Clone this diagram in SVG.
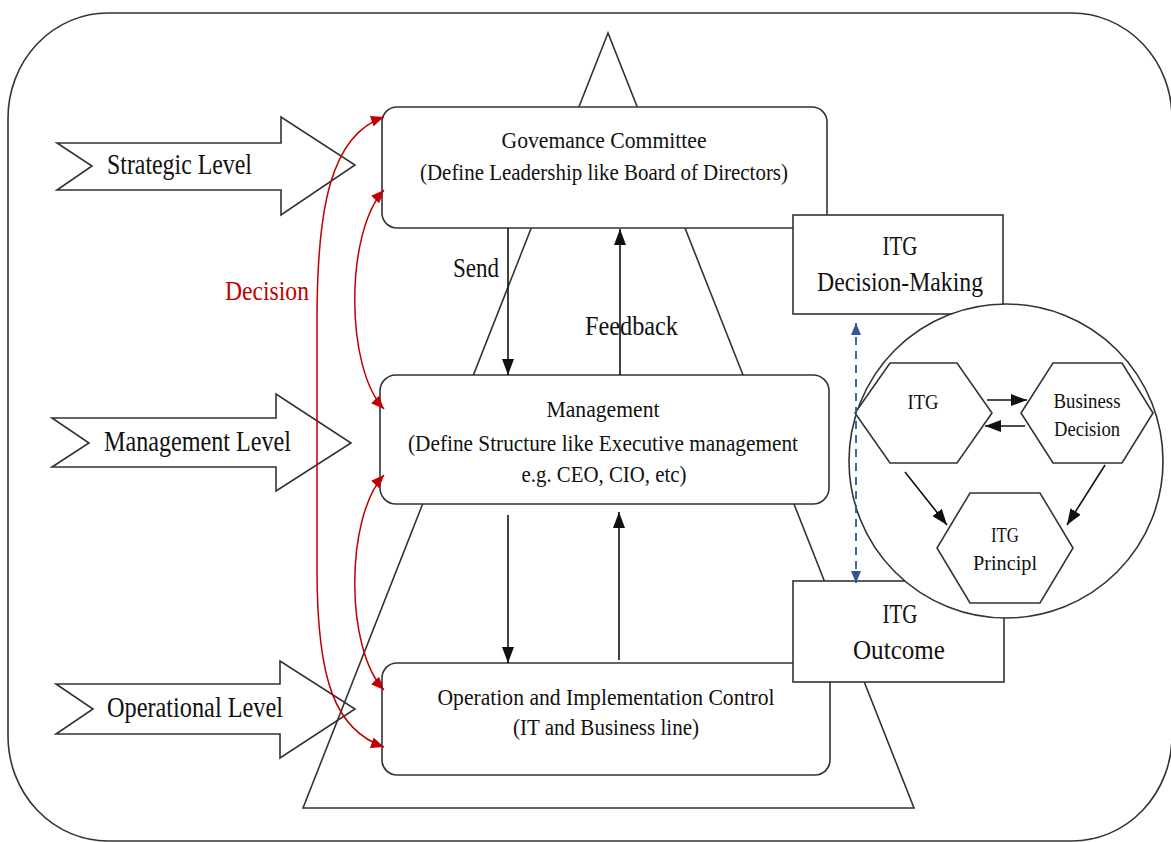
<svg xmlns="http://www.w3.org/2000/svg" width="1171" height="842" viewBox="0 0 1171 842">
<defs>
<style>
.ln{fill:none;stroke:#333;stroke-width:1.6}
.wf{fill:#fff;stroke:#333;stroke-width:1.6}
.t{font-family:"Liberation Serif","Times New Roman",serif;fill:#111}
.lv{font-size:30px}
.bx{font-size:23px}
.ig{font-size:27px}
.sm{font-size:21px}
.lb{font-size:28px}
.red{fill:#c00000}
.blk{fill:none;stroke:#111;stroke-width:1.6}
.rc{fill:none;stroke:#c00000;stroke-width:1.5}
.bl{fill:none;stroke:#2f5597;stroke-width:1.8;stroke-dasharray:8,6}
</style>
<marker id="ab" markerUnits="userSpaceOnUse" markerWidth="16" markerHeight="12" refX="16" refY="6" orient="auto-start-reverse"><path d="M0,0 L16,6 L0,12 z" fill="#111"/></marker>
<marker id="ar" markerUnits="userSpaceOnUse" markerWidth="13" markerHeight="11" refX="13" refY="5.5" orient="auto-start-reverse"><path d="M0,0 L13,5.5 L0,11 z" fill="#c00000"/></marker>
<marker id="au" markerUnits="userSpaceOnUse" markerWidth="12" markerHeight="10" refX="12" refY="5" orient="auto-start-reverse"><path d="M0,0 L12,5 L0,10 z" fill="#2f5597"/></marker>
</defs>
<rect width="1171" height="842" fill="#fff"/>
<g id="frame"><rect x="8" y="13" width="1164" height="828" rx="100" ry="105" class="ln"/></g>
<g id="strategic-level"><polygon points="57,143 281,143 281,117 355,165 281,215 281,190 57,190 92,166" class="wf"/><text x="107" y="174" class="t lv" textLength="145" lengthAdjust="spacingAndGlyphs">Strategic Level</text></g>
<g id="management-level"><polygon points="52,418 276,418 276,394 351,443 276,491 276,467 52,467 89,443" class="wf"/><text x="104" y="451" class="t lv" textLength="187" lengthAdjust="spacingAndGlyphs">Management Level</text></g>
<g id="operational-level"><polygon points="56,684 280,684 280,661 355,709 280,758 280,734 56,734 93,709" class="wf"/><text x="107" y="717" class="t lv" textLength="176" lengthAdjust="spacingAndGlyphs">Operational Level</text></g>
<g id="pyramid"><polygon points="608,33 303,808 914,808" class="ln"/></g>
<g id="governance"><rect x="382" y="107" width="445" height="121" rx="15" class="wf"/><text x="604" y="148" class="t bx" text-anchor="middle" textLength="205" lengthAdjust="spacingAndGlyphs">Govemance Committee</text><text x="604" y="180" class="t bx" text-anchor="middle" textLength="368" lengthAdjust="spacingAndGlyphs">(Define Leadership like Board of Directors)</text></g>
<g id="management"><rect x="380" y="375" width="449" height="129" rx="16" class="wf"/><text x="603" y="417" class="t bx" text-anchor="middle" textLength="113" lengthAdjust="spacingAndGlyphs">Management</text><text x="603" y="451" class="t bx" text-anchor="middle" textLength="390" lengthAdjust="spacingAndGlyphs">(Define Structure like Executive management</text><text x="604" y="482" class="t bx" text-anchor="middle" textLength="165" lengthAdjust="spacingAndGlyphs">e.g. CEO, CIO, etc)</text></g>
<g id="operation"><rect x="382" y="663" width="448" height="112" rx="15" class="wf"/><text x="606" y="705" class="t bx" text-anchor="middle" textLength="337" lengthAdjust="spacingAndGlyphs">Operation and Implementation Control</text><text x="606" y="735" class="t bx" text-anchor="middle" textLength="186" lengthAdjust="spacingAndGlyphs">(IT and Business line)</text></g>
<g id="itg-decision-making"><rect x="793" y="215" width="210" height="99" class="wf"/><text x="900" y="255" class="t ig" text-anchor="middle" textLength="35" lengthAdjust="spacingAndGlyphs">ITG</text><text x="900" y="291" class="t ig" text-anchor="middle" textLength="166" lengthAdjust="spacingAndGlyphs">Decision-Making</text></g>
<g id="itg-outcome"><rect x="793" y="581" width="211" height="101" class="wf"/><text x="900" y="623" class="t ig" text-anchor="middle" textLength="35" lengthAdjust="spacingAndGlyphs">ITG</text><text x="899" y="659" class="t ig" text-anchor="middle" textLength="92" lengthAdjust="spacingAndGlyphs">Outcome</text></g>
<g id="itg-circle"><circle cx="1006" cy="461" r="157" class="wf"/></g>
<g id="hex-itg"><polygon points="890,363 957,363 992,413 957,463 890,463 855,413" class="wf"/><text x="923" y="409" class="t sm" text-anchor="middle" textLength="31" lengthAdjust="spacingAndGlyphs">ITG</text></g>
<g id="hex-business"><polygon points="1053,363 1122,363 1153,413 1122,463 1053,463 1021,413" class="wf"/><text x="1087" y="408" class="t sm" text-anchor="middle" textLength="67" lengthAdjust="spacingAndGlyphs">Business</text><text x="1087" y="436" class="t sm" text-anchor="middle" textLength="66" lengthAdjust="spacingAndGlyphs">Decision</text></g>
<g id="hex-principl"><polygon points="970,493 1040,493 1073,548 1040,603 970,603 937,548" class="wf"/><text x="1005" y="542" class="t sm" text-anchor="middle" textLength="28" lengthAdjust="spacingAndGlyphs">ITG</text><text x="1005" y="570" class="t sm" text-anchor="middle" textLength="64" lengthAdjust="spacingAndGlyphs">Principl</text></g>
<g id="labels"><text x="225" y="300" class="t lb red" textLength="84" lengthAdjust="spacingAndGlyphs">Decision</text><text x="453" y="277" class="t lb" textLength="46" lengthAdjust="spacingAndGlyphs">Send</text><text x="585" y="335" class="t lb" textLength="93" lengthAdjust="spacingAndGlyphs">Feedback</text></g>
<g id="connectors">
<line x1="508" y1="228" x2="508" y2="375" class="blk" marker-end="url(#ab)"/>
<line x1="620" y1="375" x2="620" y2="229" class="blk" marker-end="url(#ab)"/>
<line x1="508" y1="515" x2="508" y2="663" class="blk" marker-end="url(#ab)"/>
<line x1="619" y1="660" x2="619" y2="512" class="blk" marker-end="url(#ab)"/>
<path d="M384,117 C330,135 317,210 317,320 L317,570 C317,680 335,730 384,747" class="rc" marker-start="url(#ar)" marker-end="url(#ar)"/>
<path d="M384,190 C345,232 345,368 384,409" class="rc" marker-start="url(#ar)" marker-end="url(#ar)"/>
<path d="M384,475 C345,517 345,649 384,690" class="rc" marker-start="url(#ar)" marker-end="url(#ar)"/>
<line x1="856" y1="323" x2="856" y2="583" class="bl" marker-start="url(#au)" marker-end="url(#au)"/>
<line x1="987" y1="400" x2="1027" y2="400" class="blk" marker-end="url(#ab)"/>
<line x1="1025" y1="426" x2="985" y2="426" class="blk" marker-end="url(#ab)"/>
<line x1="905" y1="472" x2="947" y2="525" class="blk" marker-end="url(#ab)"/>
<line x1="1105" y1="465" x2="1067" y2="525" class="blk" marker-end="url(#ab)"/>
</g>
</svg>
